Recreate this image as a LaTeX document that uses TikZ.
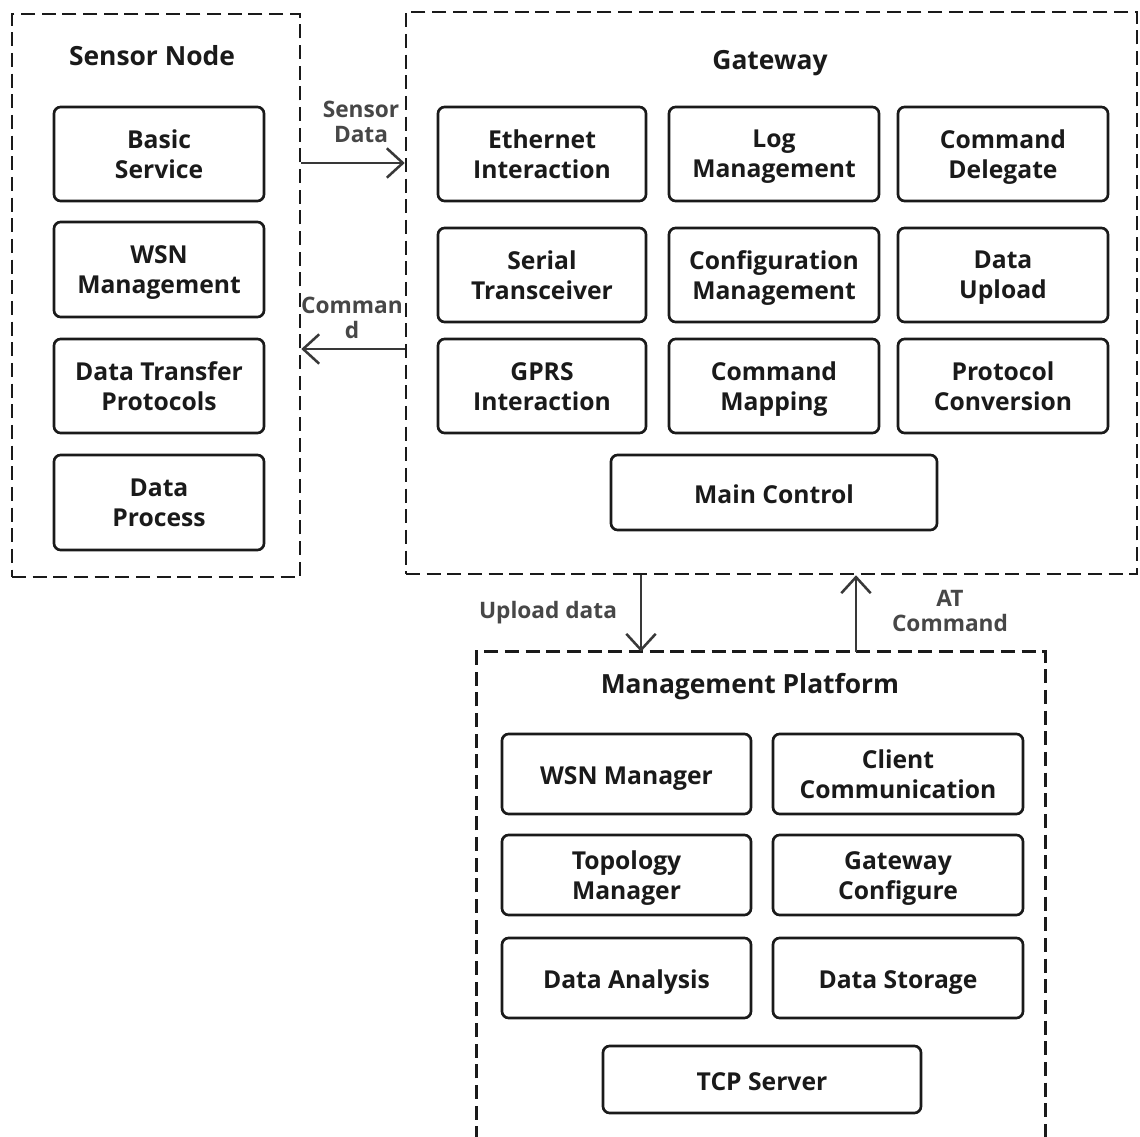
\documentclass[tikz,border=0pt]{standalone}
\usepackage{fontspec}
\setmainfont{Open Sans}
\usetikzlibrary{arrows.meta}
\definecolor{ink}{HTML}{1A1A1A}
\definecolor{wire}{HTML}{383838}
\definecolor{lbl}{HTML}{474747}
\tikzset{
  module/.style={draw=ink, line width=2pt, rounded corners=5pt, inner sep=0pt},
  modtext/.style={inner sep=0pt, align=center, text=ink,
    font=\fontsize{18.5}{22.5}\selectfont\bfseries,
    execute at begin node=\strut, execute at end node=\strut},
  group/.style={draw=ink, line width=1.9pt, dash pattern=on 10.5pt off 5pt, inner sep=0pt},
  grouptitle/.style={text=ink, font=\fontsize{19.8}{24}\selectfont\bfseries},
  flow/.style={draw=wire, line width=1.9pt, -{Straight Barb[length=12pt,width=22pt,line width=1.9pt]}},
  flowlabel/.style={text=lbl, align=center, font=\fontsize{17}{19}\selectfont\bfseries}
}
% frame given by its corners (in drawing units): name, x1, y1, x2, y2, options
\newcommand\frameat[6]{%
  \node[#6, minimum width={(#4-#2)*0.75pt}, minimum height={(#5-#3)*0.75pt}]
    (#1) at ({(#2+#4)/2},{(#3+#5)/2}) {};}
% a module box with its centred caption
\newcommand\modat[6]{%
  \frameat{#1}{#2}{#3}{#4}{#5}{module}
  \node[modtext] (#1-t) at ([yshift=-3.5pt]#1.center) {#6};}
\begin{document}
\begin{tikzpicture}[x=0.75pt,y=-0.75pt]
\useasboundingbox[fill=white] (0,0) rectangle (1140,1137);

% ---- Sensor node ----
\frameat{sn}{12}{14}{300}{577}{group}
\node[grouptitle] (snt) at (152,56) {Sensor Node};
\modat{bs}{54}{107}{264}{201}{Basic\\Service}
\modat{wsn}{54}{222}{264}{317}{WSN\\Management}
\modat{dtp}{54}{339}{264}{433}{Data Transfer\\Protocols}
\modat{dp}{54}{455}{264}{550}{Data\\Process}

% ---- Gateway ----
\frameat{gw}{406}{12}{1137}{574}{group}
\node[grouptitle] (gwt) at (770,63) {Gateway};
\modat{eth}{438}{107}{646}{201}{Ethernet\\Interaction}
\modat{log}{669}{107}{879}{201}{Log\\Management}
\modat{cmdd}{898}{107}{1108}{201}{Command\\Delegate}
\modat{ser}{438}{228}{646}{322}{Serial\\Transceiver}
\modat{cfg}{669}{228}{879}{322}{Configuration\\Management}
\modat{up}{898}{228}{1108}{322}{Data\\Upload}
\modat{gprs}{438}{339}{646}{433}{GPRS\\Interaction}
\modat{cmap}{669}{339}{879}{433}{Command\\Mapping}
\modat{proto}{898}{339}{1108}{433}{Protocol\\Conversion}
\modat{main}{611}{455}{937}{530}{Main Control}

% ---- Management platform (open at the bottom) ----
\frameat{mp}{477}{652}{1045}{1140}{inner sep=0pt}
\draw[group] (mp.south west) -- (mp.north west) -- (mp.north east) -- (mp.south east);
\node[grouptitle] (mpt) at (750,687) {Management Platform};
\modat{wsnm}{502}{734}{751}{814}{WSN Manager}
\modat{cc}{773}{734}{1023}{814}{Client\\Communication}
\modat{topo}{502}{835}{751}{915}{Topology\\Manager}
\modat{gwc}{773}{835}{1023}{915}{Gateway\\Configure}
\modat{da}{502}{938}{751}{1018}{Data Analysis}
\modat{ds}{773}{938}{1023}{1018}{Data Storage}
\modat{tcp}{603}{1046}{921}{1113}{TCP Server}

% ---- Connectors ----
\coordinate (sdy) at (0,163);
\coordinate (cmy) at (0,349);
\coordinate (upx) at (641,0);
\coordinate (atx) at (856,0);
\draw[flow] (sn.east |- sdy) -- (gw.west |- sdy);
\draw[flow] (gw.west |- cmy) -- (sn.east |- cmy);
\draw[flow] (upx |- gw.south) -- (upx |- mp.north);
\draw[flow] (atx |- mp.north) -- (atx |- gw.south);

\node[flowlabel] (sdl) at (361,122) {Sensor\\Data};
\node[flowlabel] (cml) at (352,318) {Comman\\d};
\node[flowlabel] (upl) at (548,613) {Upload data};
\node[flowlabel] (atl) at (950,611) {AT\\Command};
\end{tikzpicture}
\end{document}
